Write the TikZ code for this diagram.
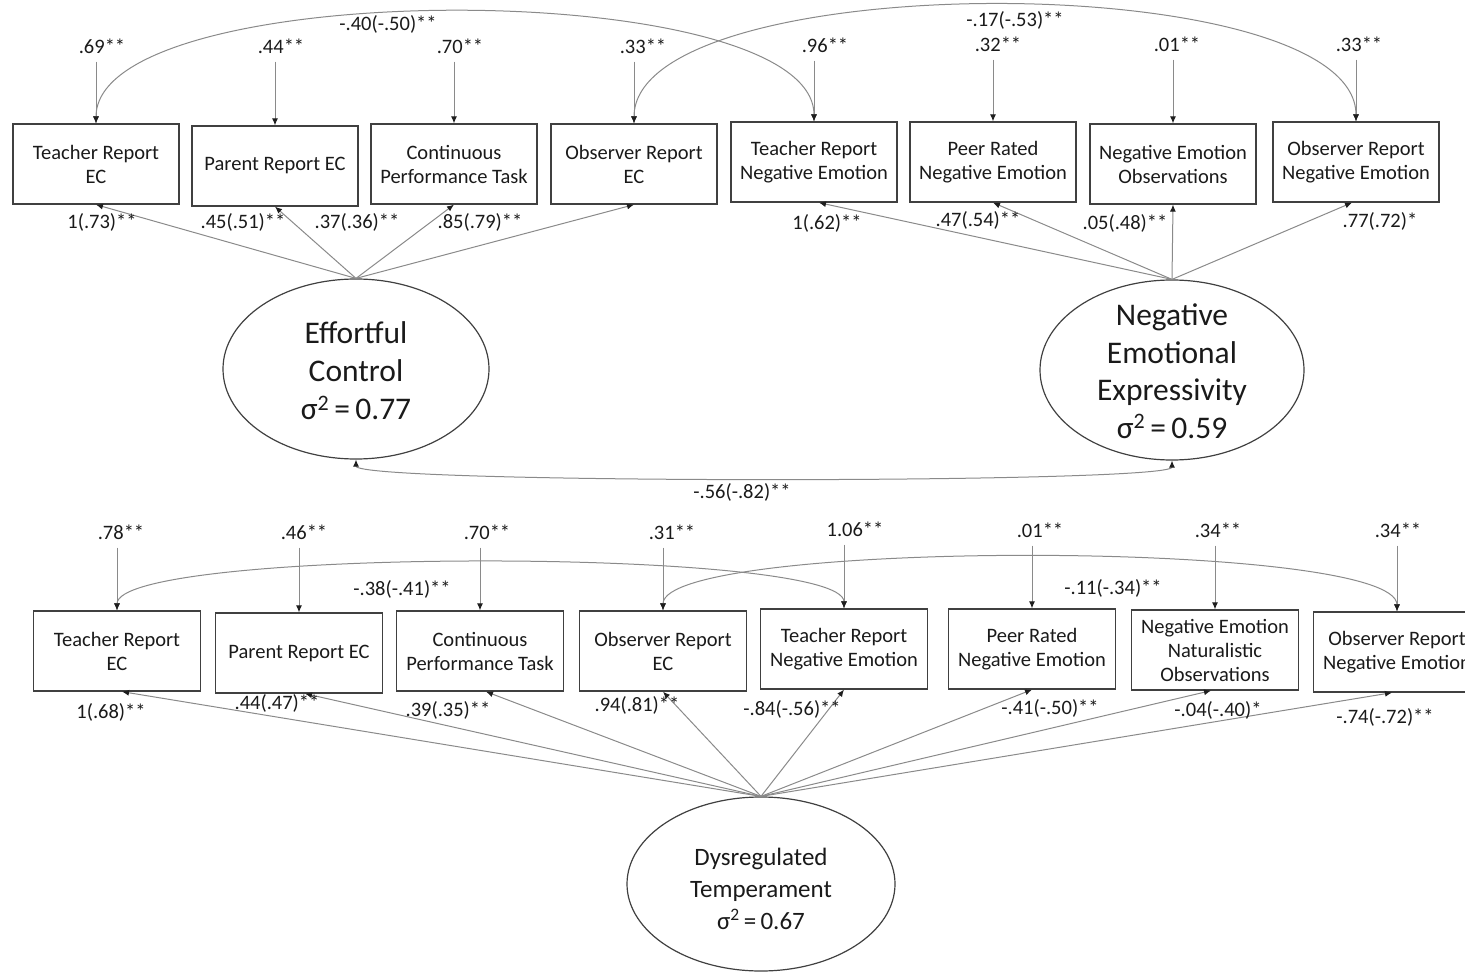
\documentclass[tikz,border=0pt]{standalone}
\usepackage{fontspec}
\setmainfont{Carlito}
\usetikzlibrary{arrows.meta,shapes.geometric}
\definecolor{linec}{HTML}{8A8A8A}
\definecolor{boxc}{HTML}{404040}
\definecolor{tipc}{HTML}{1E1E1E}
\definecolor{txtc}{HTML}{1A1A1A}
\begin{document}
\begin{tikzpicture}[x=1pt,y=-1pt,
  every node/.style={text=txtc},
  box/.style={draw=boxc,line width=1.3pt,minimum width=166pt,minimum height=80pt,inner sep=0pt,align=center,font=\fontsize{20.5}{24}\selectfont},
  lat/.style={ellipse,draw=boxc,line width=1.2pt,inner sep=0pt},
  lattxt/.style={align=center,inner sep=0pt},
  lbl/.style={inner sep=0pt,font=\fontsize{20.5}{24}\selectfont},
  con/.style={draw=linec,line width=1pt,-{Latex[length=7pt,width=6pt,color=tipc]}},
  cov/.style={draw=linec,line width=1pt,{Latex[length=7pt,width=6pt,color=tipc]}-{Latex[length=7pt,width=6pt,color=tipc]}}]
\useasboundingbox (0,0) rectangle (1465,976);

% ---------- top model ----------
\node[box] (a1) at (96,164) {Teacher Report\\EC};
\node[box] (a2) at (275,166) {Parent Report EC};
\node[box] (a3) at (454,164) {Continuous\\Performance Task};
\node[box] (a4) at (634,164) {Observer Report\\EC};
\node[box] (a5) at (814,162) {Teacher Report\\Negative Emotion};
\node[box] (a6) at (993,162) {Peer Rated\\Negative Emotion};
\node[box] (a7) at (1173,164) {Negative Emotion\\Observations};
\node[box] (a8) at (1356,162) {Observer Report\\Negative Emotion};

\node[lbl] (v1) at (102,46) {.69**};
\node[lbl] (v2) at (281,46) {.44**};
\node[lbl] (v3) at (460,46) {.70**};
\node[lbl] (v4) at (643,46) {.33**};
\node[lbl] (v5) at (825,45) {.96**};
\node[lbl] (v6) at (998,44) {.32**};
\node[lbl] (v7) at (1177,44) {.01**};
\node[lbl] (v8) at (1359,44) {.33**};
\foreach \i in {1,...,8}{
  \draw[con,shorten <=8pt] (a\i.north |- v\i.south) -- (a\i.north);
}

\draw[cov] (a1.north) .. controls (96,-25) and (814,-25) .. (a5.north);
\node[lbl] (c1) at (388,24) {-.40(-.50)**};
\draw[cov] (a4.north) .. controls (634,-34) and (1356,-34) .. (a8.north);
\node[lbl] (c2) at (1015,20) {-.17(-.53)**};

\node[lat,minimum width=266pt,minimum height=180pt] (ec) at (356,369) {};
\node[lattxt,font=\fontsize{31.5}{38}\selectfont] (ect) at (356,371) {Effortful\\Control\\σ\textsuperscript{2}\,=\,0.77};
\node[lat,minimum width=264pt,minimum height=180pt] (nee) at (1172,370) {};
\node[lattxt,font=\fontsize{31.5}{37.5}\selectfont] (neet) at (1172,371) {Negative\\Emotional\\Expressivity\\σ\textsuperscript{2}\,=\,0.59};

\draw[con] (ec.north) -- (a1.south);
\draw[con] (ec.north) -- (a2.south);
\draw[con] (ec.north) -- (a3.south);
\draw[con] (ec.north) -- (a4.south);
\draw[con] (nee.north) -- ([xshift=5pt]a5.south);
\draw[con] (nee.north) -- (a6.south);
\draw[con] (nee.north) -- (a7.south);
\draw[con] (nee.north) -- ([xshift=-4pt]a8.south);

\node[lbl] (l1) at (102,222) {1(.73)**};
\node[lbl] (l2) at (243,222) {.45(.51)**};
\node[lbl] (l3) at (357,222) {.37(.36)**};
\node[lbl] (l4) at (480,222) {.85(.79)**};
\node[lbl] (l5) at (827,223) {1(.62)**};
\node[lbl] (l6) at (978,220) {.47(.54)**};
\node[lbl] (l7) at (1125,223) {.05(.48)**};
\node[lbl] (l8) at (1380,221) {.77(.72)*};

\draw[cov] (ec.south) .. controls (356,484) and (1172,484) .. (nee.south);
\node[lbl] (c3) at (742,492) {-.56(-.82)**};

% ---------- bottom model ----------
\node[box,minimum width=167pt] (b1) at (117,651) {Teacher Report\\EC};
\node[box,minimum width=167pt] (b2) at (299,653) {Parent Report EC};
\node[box,minimum width=167pt] (b3) at (480,651) {Continuous\\Performance Task};
\node[box,minimum width=167pt] (b4) at (663,651) {Observer Report\\EC};
\node[box,minimum width=167pt] (b5) at (844,649) {Teacher Report\\Negative Emotion};
\node[box,minimum width=167pt] (b6) at (1032,649) {Peer Rated\\Negative Emotion};
\node[box,minimum width=167pt] (b7) at (1215,650) {Negative Emotion\\Naturalistic\\Observations};
\node[box,minimum width=167pt] (b8) at (1397,652) {Observer Report\\Negative Emotion};

\node[lbl] (w1) at (121,532) {.78**};
\node[lbl] (w2) at (304,532) {.46**};
\node[lbl] (w3) at (487,532) {.70**};
\node[lbl] (w4) at (672,532) {.31**};
\node[lbl] (w5) at (855,529) {1.06**};
\node[lbl] (w6) at (1040,530) {.01**};
\node[lbl] (w7) at (1218,530) {.34**};
\node[lbl] (w8) at (1398,530) {.34**};
\foreach \i in {1,...,8}{
  \draw[con,shorten <=8pt] (b\i.north |- w\i.south) -- (b\i.north);
}

\draw[cov] (b1.north) .. controls (117,547) and (844,547) .. (b5.north);
\node[lbl] (c4) at (402,589) {-.38(-.41)**};
\draw[cov] (b4.north) .. controls (663,539) and (1397,539) .. (b8.north);
\node[lbl] (c5) at (1113,588) {-.11(-.34)**};

\node[lat,minimum width=268pt,minimum height=174pt] (dt) at (761,884) {};
\node[lattxt,font=\fontsize{25}{32}\selectfont] (dtt) at (761,889) {Dysregulated\\Temperament\\σ\textsuperscript{2}\,=\,0.67};

\draw[con] (dt.north) -- ([xshift=5pt]b1.south);
\draw[con] (dt.north) -- ([xshift=6pt]b2.south);
\draw[con] (dt.north) -- ([xshift=6pt]b3.south);
\draw[con] (dt.north) -- (b4.south);
\draw[con] (dt.north) -- (b5.south);
\draw[con] (dt.north) -- (b6.south);
\draw[con] (dt.north) -- ([xshift=-4pt]b7.south);
\draw[con] (dt.north) -- ([xshift=-5pt]b8.south);

\node[lbl] (m1) at (111,712) {1(.68)**};
\node[lbl] (m2) at (277,703) {.44(.47)**};
\node[lbl] (m3) at (448,710) {.39(.35)**};
\node[lbl] (m4) at (637,705) {.94(.81)**};
\node[lbl] (m5) at (792,709) {-.84(-.56)**};
\node[lbl] (m6) at (1050,708) {-.41(-.50)**};
\node[lbl] (m7) at (1218,710) {-.04(-.40)*};
\node[lbl] (m8) at (1385,717) {-.74(-.72)**};
\end{tikzpicture}
\end{document}
